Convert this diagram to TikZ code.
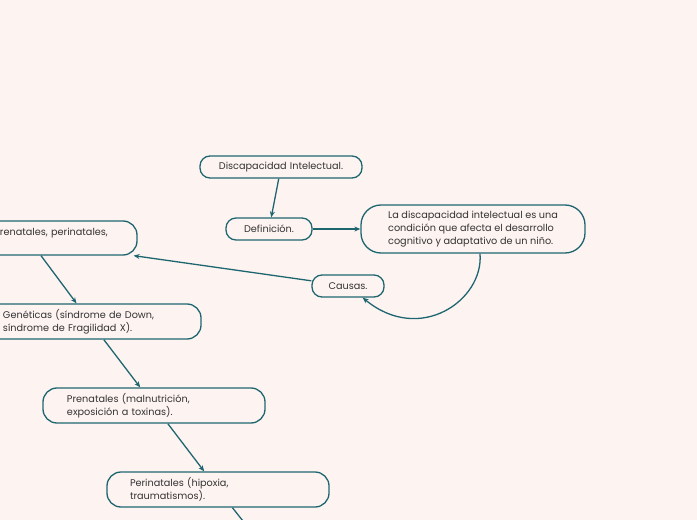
\documentclass[tikz,border=0pt]{standalone}
\usepackage{fontspec}
\setmainfont{Poppins}
\usetikzlibrary{arrows.meta}
\definecolor{bg}{HTML}{FDF3F1}
\definecolor{tealc}{HTML}{1D6670}
\definecolor{txt}{HTML}{333333}
\begin{document}
\begin{tikzpicture}[x=1bp,y=-1bp,
  box/.style={draw=tealc,line width=1.3bp,fill=bg,text=txt,
    font=\fontsize{9.7bp}{13bp}\selectfont,rounded corners=10bp,
    inner ysep=0pt,align=left},
  conn/.style={draw=tealc,line width=1.3bp,-{Stealth[length=6bp,width=5bp]}}]
\useasboundingbox (0,0) rectangle (697,520);
\fill[bg] (0,0) rectangle (697,520);
\clip (0,0) rectangle (697,520);
\node[box,align=center,inner xsep=0pt,text width=162bp,minimum height=22bp] (a) at (281,167) {Discapacidad Intelectual.};
\node[box,align=center,inner xsep=0pt,text width=86bp,minimum height=22bp] (b) at (269,229) {Definición.};
\node[box,inner xsep=0pt,minimum width=224bp,minimum height=48bp,rounded corners=20bp] (d) at (473,229) {La discapacidad intelectual es una\\condición que afecta el desarrollo\\cognitivo y adaptativo de un niño.};
\node[box,align=center,inner xsep=0pt,text width=72bp,minimum height=22bp] (c) at (348,286) {Causas.};
\node[box,inner xsep=24bp,text width=113bp,minimum height=34bp,rounded corners=14bp] (e) at (56.5,238) {renatales, perinatales,\\\mbox{}};
\node[box,inner xsep=24bp,text width=174bp,minimum height=35bp,rounded corners=14bp] (f) at (90,321.5) {Genéticas (síndrome de Down,\\síndrome de Fragilidad X).};
\node[box,inner xsep=24bp,text width=174bp,minimum height=35bp,rounded corners=14bp] (g) at (154,405.5) {Prenatales (malnutrición,\\exposición a toxinas).};
\node[box,inner xsep=23bp,text width=176bp,minimum height=35bp,rounded corners=14bp] (h) at (218,489.5) {Perinatales (hipoxia,\\traumatismos).};
\coordinate (off) at (262,545);
\draw[conn] (a) -- (b);
\draw[conn] (b) -- (d);
\draw[conn] ([xshift=7bp]d.south) .. controls (484,300) and (420,345) .. ([xshift=-22bp]c.south east);
\draw[conn] (c) -- ([xshift=-4bp]e.south east);
\draw[conn] ([xshift=-15.5bp]e.south) -- (f);
\draw[conn] (f) -- (g);
\draw[conn] (g) -- (h);
\draw[conn] (h) -- (off);
\end{tikzpicture}
\end{document}
